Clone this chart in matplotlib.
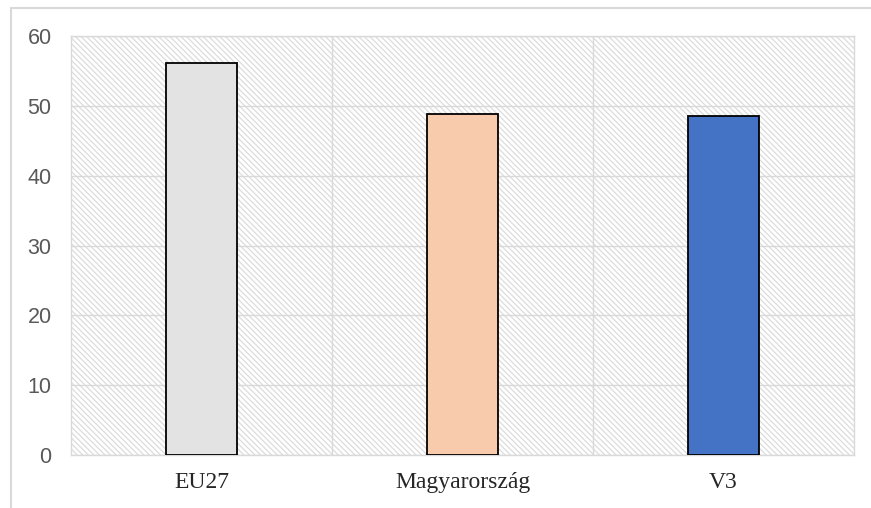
import matplotlib
matplotlib.use("Agg")
import matplotlib.pyplot as plt
from matplotlib.patches import Rectangle

categories = ["EU27", "Magyarország", "V3"]
values = [56.1, 48.9, 48.6]
bar_colors = ["#e3e3e3", "#f8cbad", "#4472c4"]
y_ticks = [0, 10, 20, 30, 40, 50, 60]

grid_gray = "#d9d9d9"
plt.rcParams["hatch.linewidth"] = 0.9

fig = plt.figure(figsize=(8.71, 5.08), dpi=100)
fig.patch.set_facecolor("white")

# outer chart frame (runs off the right and bottom edges)
fig.patches.append(Rectangle((11 / 871, -0.05), 1.2, 1 - 8 / 508 + 0.05,
                             transform=fig.transFigure, fill=False,
                             edgecolor=grid_gray, linewidth=1.5, zorder=0))

ax = fig.add_axes([71 / 871, 1 - 455 / 508, (854 - 71) / 871, (455 - 36) / 508])
ax.set_xlim(-0.5, len(categories) - 0.5)
ax.set_ylim(0, 60)

# hatched plot-area background
ax.add_patch(Rectangle((0, 0), 1, 1, transform=ax.transAxes,
                       facecolor="white", edgecolor="#dcdcdc",
                       hatch="\\" * 6, linewidth=0, zorder=0))

# gridlines
for y in y_ticks:
    ax.axhline(y, color=grid_gray, linewidth=1.0, zorder=1)
for x in [0.5, 1.5]:
    ax.axvline(x, color=grid_gray, linewidth=1.0, zorder=1)

x = list(range(len(categories)))
ax.bar(x, values, width=0.27, color=bar_colors, edgecolor="black",
       linewidth=1.3, zorder=3)

ax.set_yticks(y_ticks)
ax.set_yticklabels([str(t) for t in y_ticks], fontfamily="Liberation Sans",
                   fontsize=15.5, color="#595959")
ax.set_xticks(x)
ax.set_xticklabels(categories, fontfamily="Liberation Serif",
                   fontsize=17, color="#262626")
ax.tick_params(axis="y", length=0, pad=14)
ax.tick_params(axis="x", length=0, pad=12)

for s in ax.spines.values():
    s.set_color(grid_gray)
    s.set_linewidth(1.0)

fig.savefig("out.png", dpi=100)
